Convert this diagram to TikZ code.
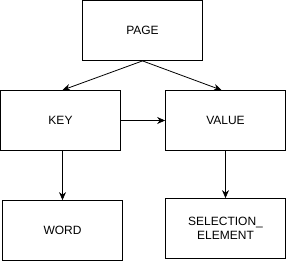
\documentclass[tikz,border=0pt]{standalone}
\usepackage{fontspec}
\setmainfont{Liberation Sans}
\usetikzlibrary{arrows.meta}

\begin{document}
\begin{tikzpicture}[x=1pt, y=-1pt,
        box/.style ={draw, line width=0.8pt, minimum width=120pt, minimum height=60pt,
                     inner sep=0pt, align=center, font=\fontsize{12}{14}\selectfont},
        conn/.style={-{Stealth[length=8pt, width=7pt]}, line width=0.8pt}]
    \useasboundingbox (0,0) rectangle (286,261);

    %--- Nodes ---
    \node[box] (page)  at (142.5, 30.5)  {PAGE};
    \node[box] (key)   at (60.5, 120.5)  {KEY};
    \node[box] (value) at (225.5, 120.5) {VALUE};
    \node[box] (word)  at (62.5, 230.5)  {WORD};
    \node[box] (sel)   at (225.5, 228.5) {SELECTION\_\\ELEMENT};

    %--- Arrows from page ---
    \draw[conn] (page.south) -- ([xshift=2pt]key.north);
    \draw[conn] (page.south) -- ([xshift=-4pt]value.north);

    %--- Horizontal arrow ---
    \draw[conn] (key.east) -- (value.west);

    %--- Vertical arrows ---
    \draw[conn] (word.north |- key.south) -- (word.north);
    \draw[conn] (value.south) -- (sel.north);

\end{tikzpicture}
\end{document}
